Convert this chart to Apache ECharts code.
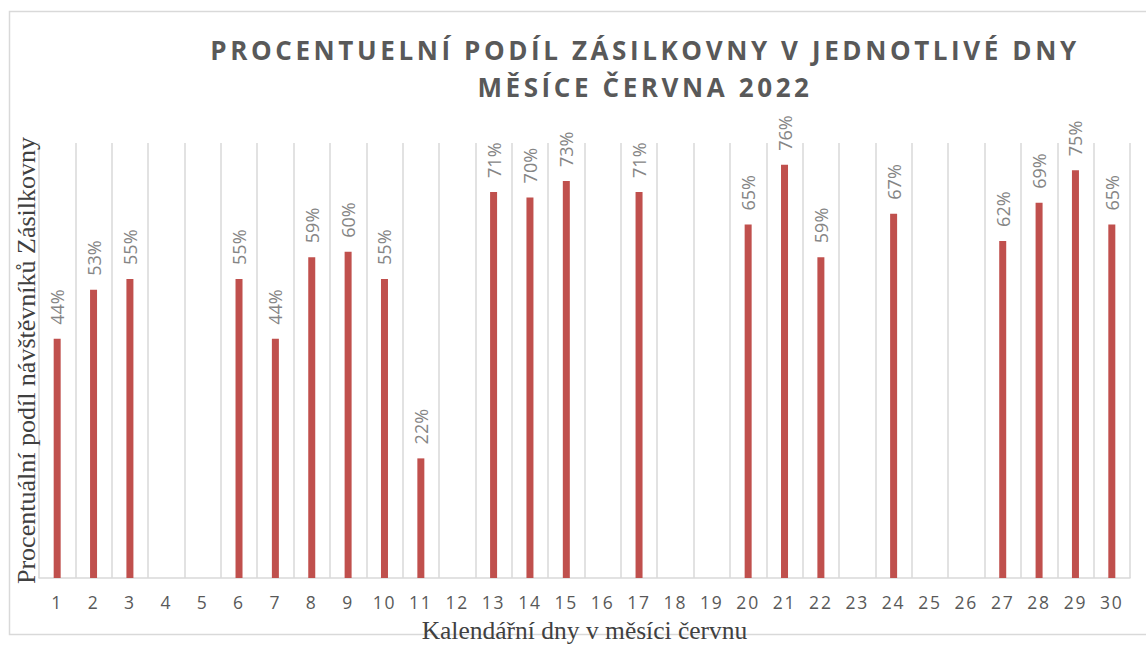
<!DOCTYPE html>
<html>
<head>
<meta charset="utf-8">
<script src="https://cdn.jsdelivr.net/npm/echarts@6/dist/echarts.min.js"></script>
<style>
  html, body { margin: 0; padding: 0; background: #fff; }
  #chart { width: 1146px; height: 646px; }
  /* prostrkani jako v Excelu: nadpis (bold) a popisky osy x (17.5px) */
  #chart text[style*="bold"] { letter-spacing: 3.6px; }
  #chart text[style*="17.5px"] { letter-spacing: 1.8px; }
</style>
</head>
<body>
<div id="chart"></div>
<script>
// dny v cervnu
const days = ["1", "2", "3", "4", "5", "6", "7", "8", "9", "10",
              "11", "12", "13", "14", "15", "16", "17", "18", "19", "20",
              "21", "22", "23", "24", "25", "26", "27", "28", "29", "30"];

// podil v %, null = den bez dat
const shares = [44, 53, 55, null, null, 55, 44, 59, 60, 55,
                22, null, 71, 70, 73, null, 71, null, null, 65,
                76, 59, null, 67, null, null, 62, 69, 75, 65];

const titleText = "PROCENTUELNÍ PODÍL ZÁSILKOVNY V JEDNOTLIVÉ DNY\nMĚSÍCE ČERVNA 2022";
const yName = "Procentuální podíl návštěvníků Zásilkovny";
const xName = "Kalendářní dny v měsíci červnu";

let chart = echarts.init(document.getElementById("chart"), null, { renderer: "svg" });

let option = {
  backgroundColor: "#fff",
  animation: false,
  title: {
    text: titleText,
    left: 640,
    top: 26,
    textAlign: "center",
    textStyle: {
      fontFamily: "Open Sans",
      fontSize: 26,
      fontWeight: "bold",
      color: "#595959",
      lineHeight: 37
    }
  },
  graphic: [
    {
      type: "rect",
      shape: { x: 9.5, y: 11.5, width: 1150, height: 623 },
      style: { fill: "none", stroke: "#d9d9d9", lineWidth: 1.5 },
      z: -1
    }
  ],
  grid: {
    left: 39,
    right: 16,
    top: 143,
    bottom: 68,
    containLabel: false,
    outerBoundsMode: "none"
  },
  xAxis: {
    type: "category",
    data: days,
    name: xName,
    nameLocation: "middle",
    nameGap: 40,
    nameMoveOverlap: false,
    nameTextStyle: {
      fontFamily: "Liberation Serif",
      fontSize: 25.5,
      lineHeight: 25,
      color: "#404040"
    },
    axisLine: { lineStyle: { color: "#d9d9d9", width: 1.5 } },
    axisTick: { show: false },
    axisLabel: {
      fontFamily: "Open Sans",
      fontSize: 17.5,
      lineHeight: 18,
      color: "#595959",
      margin: 15
    },
    splitLine: {
      show: true,
      interval: 0,
      lineStyle: { color: "#d9d9d9", width: 1.5 }
    }
  },
  yAxis: {
    type: "value",
    min: 0,
    max: 80,
    name: yName,
    nameLocation: "middle",
    nameGap: 0,
    nameMoveOverlap: false,
    nameTextStyle: {
      fontFamily: "Liberation Serif",
      fontSize: 26,
      color: "#404040"
    },
    axisLine: { show: false },
    axisTick: { show: false },
    axisLabel: { show: false },
    splitLine: { show: false }
  },
  series: [
    {
      type: "bar",
      data: shares,
      barWidth: 7,
      itemStyle: { color: "#c0504d" },
      label: {
        show: true,
        position: "top",
        rotate: 90,
        align: "left",
        verticalAlign: "middle",
        distance: 14,
        fontFamily: "Open Sans",
        fontSize: 18,
        color: "#858585",
        formatter: p => p.value + "%"
      }
    }
  ]
};

chart.setOption(option);
</script>
</body>
</html>
